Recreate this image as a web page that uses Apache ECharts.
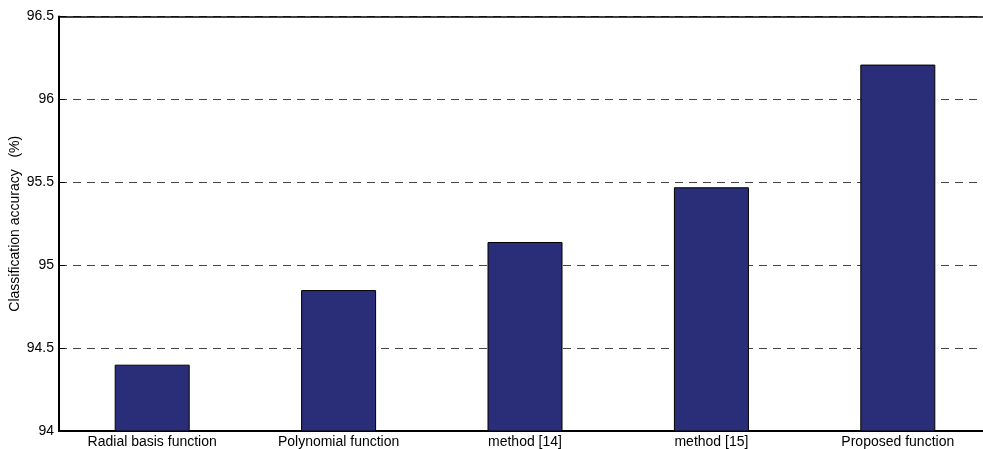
<!DOCTYPE html>
<html>
<head>
<meta charset="utf-8">
<script src="https://cdn.jsdelivr.net/npm/echarts@6/dist/echarts.min.js"></script>
<style>
html,body{margin:0;padding:0;background:#fff;overflow:hidden;}
#chart{width:983px;height:449px;}
</style>
</head>
<body>
<div id="chart"></div>
<script>
const categories = ['Radial basis function', 'Polynomial function', 'method [14]', 'method [15]', 'Proposed function'];
const accuracy = [94.40, 94.85, 95.14, 95.47, 96.21];
const yTicks = [94, 94.5, 95, 95.5, 96, 96.5];

const chart = echarts.init(document.getElementById('chart'));
const font = 'Liberation Sans, Arial, Helvetica, sans-serif';
chart.setOption({
  animation: false,
  grid: { left: 59, top: 16.5, width: 932, bottom: 18, containLabel: false, outerBoundsMode: 'none' },
  xAxis: [
    {
      type: 'category', data: categories, position: 'bottom',
      axisLine: { lineStyle: { color: '#000', width: 2 } },
      axisTick: { inside: true, alignWithLabel: true, length: 6, lineStyle: { color: '#000' } },
      axisLabel: { color: '#000', fontSize: 14, fontFamily: font, margin: 4 },
      splitLine: { show: false }
    },
    {
      type: 'category', data: categories, position: 'top',
      axisLine: { lineStyle: { color: '#000', width: 1.5 } },
      axisTick: { inside: true, alignWithLabel: true, length: 9, lineStyle: { color: '#000' } },
      axisLabel: { show: false },
      splitLine: { show: false }
    }
  ],
  yAxis: {
    type: 'value', min: yTicks[0], max: yTicks[yTicks.length - 1], interval: 0.5,
    name: 'Classification accuracy   (%)', nameLocation: 'middle', nameGap: 37,
    nameMoveOverlap: false,
    nameTextStyle: { color: '#000', fontSize: 14, fontFamily: font },
    axisLine: { show: true, lineStyle: { color: '#000', width: 2 } },
    axisTick: { show: true, inside: true, length: 6, lineStyle: { color: '#000' } },
    axisLabel: { color: '#000', fontSize: 14, fontFamily: font, margin: 5 },
    splitLine: { show: true, lineStyle: { color: '#444', width: 1, type: [8, 6] } }
  },
  series: [{
    type: 'bar', data: accuracy, barWidth: 75,
    itemStyle: { color: '#2A2D78', borderColor: '#000', borderWidth: 1 }
  }]
});
</script>
</body>
</html>
